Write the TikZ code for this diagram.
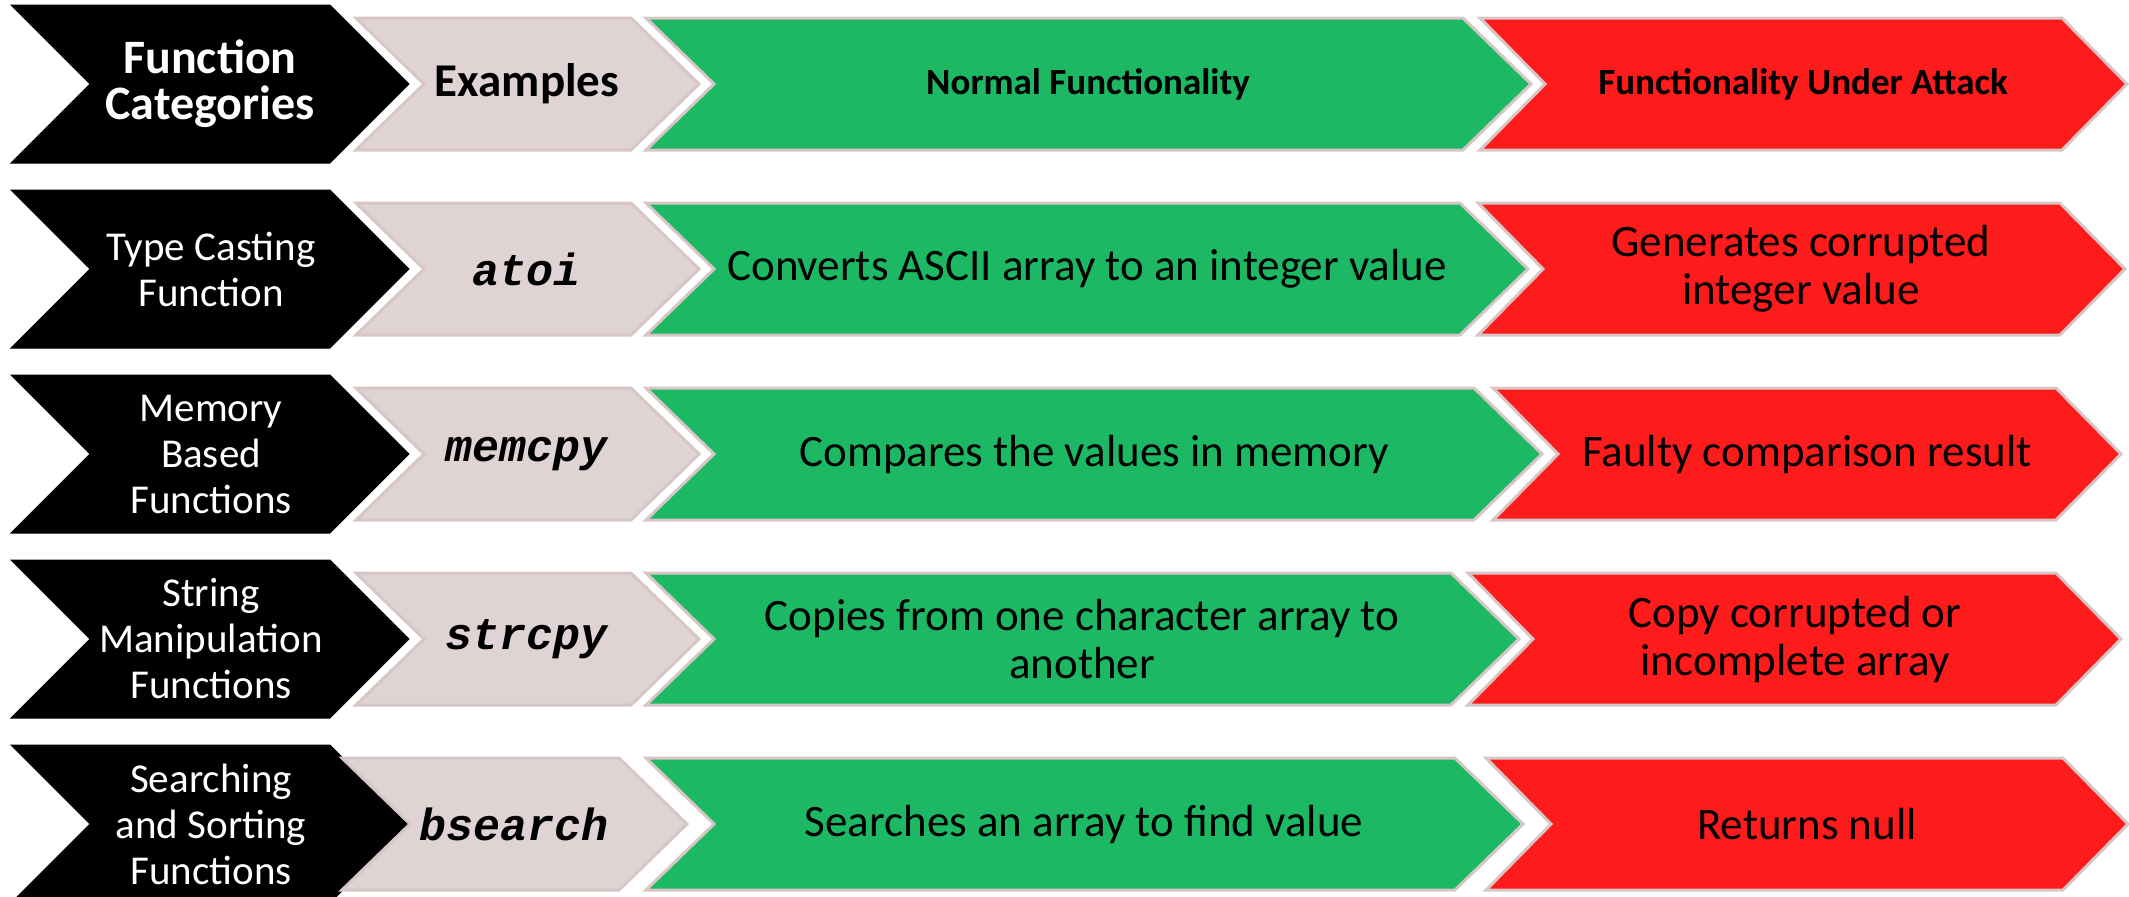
\documentclass[tikz,border=0pt]{standalone}
\usepackage{fontspec}
\setmainfont{Carlito}
\newfontfamily\codefont{Liberation Mono}
\definecolor{blk}{HTML}{000000}
\definecolor{graycol}{HTML}{E0D3D3}
\definecolor{greencol}{HTML}{1CB864}
\definecolor{redcol}{HTML}{FD1B1B}
\definecolor{edgecol}{HTML}{D8C6C6}
% #1 style, #2 left, #3 top-right x, #4 depth, #5 centre y, #6 half height
\newcommand\chevdraw[6]{%
  \filldraw[#1] (#2,#5-#6) -- (#3,#5-#6) -- (#3+#4,#5) -- (#3,#5+#6)
    -- (#2,#5+#6) -- (#2+#4,#5) -- cycle;}
\tikzset{
  blackchev/.style={fill=blk, draw=blk, line width=0.5pt},
  graychev/.style={fill=graycol, draw=edgecol, line width=1.5pt},
  greenchev/.style={fill=greencol, draw=edgecol, line width=1.5pt},
  redchev/.style={fill=redcol, draw=edgecol, line width=1.5pt},
  cattext/.style={text=white, align=center, inner sep=0pt, font=\fontsize{20.5}{23}\selectfont},
  headcat/.style={text=white, align=center, inner sep=0pt, font=\fontsize{24}{23}\selectfont\bfseries},
  headex/.style={text=black, align=center, inner sep=0pt, font=\fontsize{23.5}{24}\selectfont\bfseries},
  headcol/.style={text=black, align=center, inner sep=0pt, font=\fontsize{18.5}{20}\selectfont\bfseries},
  codetext/.style={text=black, align=center, inner sep=0pt, font=\fontsize{22.5}{24}\selectfont\codefont\bfseries\itshape},
  bodytext/.style={text=black, align=center, inner sep=0pt, font=\fontsize{22.5}{24}\selectfont},
}
\begin{document}
\begin{tikzpicture}[x=0.5pt,y=-0.5pt]
\useasboundingbox (0,0) rectangle (2129,896);
\clip (0,0) rectangle (2129,896);
% black column
\chevdraw{blackchev}{11}{330}{79}{84}{79}
\chevdraw{blackchev}{11}{330}{79}{269}{79}
\chevdraw{blackchev}{11}{330}{79}{454}{79}
\chevdraw{blackchev}{11}{330}{79}{639}{79}
\chevdraw{blackchev}{11}{330}{79}{824}{79}
% gray column
\chevdraw{graychev}{356}{631}{68}{84}{66}
\chevdraw{graychev}{356}{631}{68}{269}{66}
\chevdraw{graychev}{356}{631}{68}{454}{66}
\chevdraw{graychev}{356}{631}{68}{639}{66}
\chevdraw{graychev}{342}{619}{68}{824}{66}
% green column
\chevdraw{greenchev}{646}{1463}{68}{84}{66}
\chevdraw{greenchev}{646}{1460}{68}{269}{66}
\chevdraw{greenchev}{646}{1474}{68}{454}{66}
\chevdraw{greenchev}{646}{1451}{68}{639}{66}
\chevdraw{greenchev}{646}{1455}{68}{824}{66}
% red column
\chevdraw{redchev}{1480}{2062}{65}{84}{66}
\chevdraw{redchev}{1478}{2060}{65}{269}{66}
\chevdraw{redchev}{1493}{2056}{65}{454}{66}
\chevdraw{redchev}{1468}{2056}{65}{639}{66}
\chevdraw{redchev}{1486}{2063}{65}{824}{66}
% header row
\node[headcat] (cat0) at (210,84) {Function\\Categories};
\node[headex] (ex0) at (527,84) {Examples};
\node[headcol] (nor0) at (1088,84) {Normal Functionality};
\node[headcol] (att0) at (1803,84) {Functionality Under Attack};
% row 2
\node[cattext] (cat1) at (211,269) {Type Casting\\Function};
\node[codetext] (ex1) at (527,269) {atoi};
\node[bodytext] (nor1) at (1087,269) {Converts ASCII array to an integer value};
\node[bodytext] (att1) at (1801,269) {Generates corrupted\\integer value};
% row 3
\node[cattext] (cat2) at (211,454) {Memory\\Based\\Functions};
\node[codetext] (ex2) at (527,454) {memcpy};
\node[bodytext] (nor2) at (1094,454) {Compares the values in memory};
\node[bodytext] (att2) at (1807,454) {Faulty comparison result};
% row 4
\node[cattext] (cat3) at (211,639) {String\\Manipulation\\Functions};
\node[codetext] (ex3) at (527,639) {strcpy};
\node[bodytext] (nor3) at (1082,639) {Copies from one character array to\\another};
\node[bodytext] (att3) at (1795,639) {Copy corrupted or\\incomplete array};
% row 5
\node[cattext] (cat4) at (211,824) {Searching\\and Sorting\\Functions};
\node[codetext] (ex4) at (514,824) {bsearch};
\node[bodytext] (nor4) at (1084,824) {Searches an array to find value};
\node[bodytext] (att4) at (1807,824) {Returns null};
\end{tikzpicture}
\end{document}
